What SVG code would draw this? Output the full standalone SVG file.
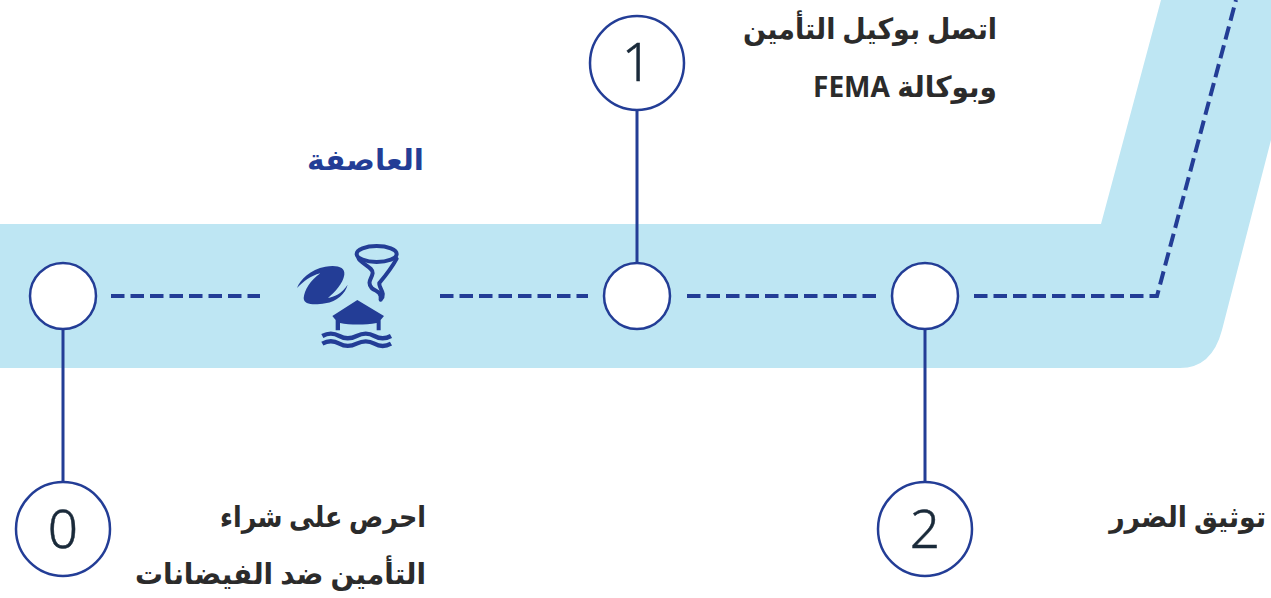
<svg xmlns="http://www.w3.org/2000/svg" width="1271" height="598" viewBox="0 0 1271 598">
<style>
.lbl{font-family:"Noto Sans","Open Sans","DejaVu Sans",sans-serif;font-weight:700;font-size:29px;fill:#2b2b2b;text-anchor:end}
.mix{direction:rtl;text-anchor:start}
.num{font-family:"Noto Sans","Open Sans",sans-serif;font-weight:300;font-size:53px;fill:#1a2a3a;stroke:#1a2a3a;stroke-width:.5;text-anchor:middle}
.big{fill:#fff;stroke:#233d96;stroke-width:2.5}
.small{fill:#fff;stroke:#233d96;stroke-width:2.5}
.stem{stroke:#233d96;stroke-width:3;fill:none}
.dash{stroke:#233d96;stroke-width:4;fill:none;stroke-dasharray:13.5 6}
.ic{fill:#233d96}
.ics{fill:none;stroke:#233d96;stroke-width:12}
.icw{fill:none;stroke:#233d96;stroke-width:13}
</style>
<path id="band" fill="#bee6f3" d="M0 224H1101L1161 0H1271V140L1222 330Q1212 368 1180 368H0Z"/>
<g id="connectors">
<path class="stem" d="M63 330V482M637 110V262M925 330V482"/>
<path class="dash" d="M111 296H260M440 296H588M687 296H877M974 296H1157L1236 0"/>
</g>
<g id="node-storm">
<text class="lbl" x="424" y="170" textLength="117" lengthAdjust="spacingAndGlyphs" style="fill:#233d96">العاصفة</text>
<g id="storm-icon">
<path class="ic" transform="translate(292 262) scale(.3333)" d="M15 78C25 52 55 22 100 14C135 8 160 15 157 38C153 65 130 88 108 108C125 105 150 95 167 68C160 95 135 118 100 124C65 130 35 128 35 108C37 85 55 55 85 34C55 42 35 58 15 78Z"/>
<g transform="translate(350 238) scale(.3333)">
<ellipse class="ics" cx="80" cy="48" rx="60" ry="24"/>
<path class="ics" stroke-linecap="round" d="M26 62C40 80 70 90 68 105C65 125 50 130 65 150C75 160 90 158 92 175L92 185M140 62C125 90 105 115 88 135C85 150 110 165 92 185"/>
</g>
<g transform="translate(315 296) scale(.3333)">
<path class="ic" d="M127 12L207 60L197 72V103H185V81C150 87 105 87 75 81V103H62V72L52 60Z"/>
<path class="icw" d="M22 120C40 110 55 110 73 120S105 130 125 120S160 110 178 120S210 130 228 120M22 143C40 133 55 133 73 143S105 153 125 143S160 133 178 143S210 153 228 143"/>
</g>
</g>
</g>
<g id="node-0">
<circle class="small" cx="63" cy="296" r="33"/>
<circle class="big" cx="63" cy="529" r="47"/>
<text class="num" x="63" y="548">0</text>
<text class="lbl" x="426" y="527" textLength="206" lengthAdjust="spacingAndGlyphs">احرص على شراء</text>
<text class="lbl" x="426" y="584" textLength="291" lengthAdjust="spacingAndGlyphs">التأمين ضد الفيضانات</text>
</g>
<g id="node-1">
<circle class="big" cx="637" cy="63" r="47"/>
<text class="num" x="637" y="81">1</text>
<circle class="small" cx="637" cy="296" r="33"/>
<text class="lbl" x="997" y="39" textLength="254" lengthAdjust="spacingAndGlyphs">اتصل بوكيل التأمين</text>
<text class="lbl mix" x="997" y="97" textLength="184" lengthAdjust="spacingAndGlyphs">وبوكالة FEMA</text>
</g>
<g id="node-2">
<circle class="small" cx="925" cy="296" r="33"/>
<circle class="big" cx="925" cy="529" r="47"/>
<text class="num" x="925" y="548">2</text>
<text class="lbl" transform="translate(1266 527) scale(.925 1)">توثيق الضرر</text>
</g>
</svg>
